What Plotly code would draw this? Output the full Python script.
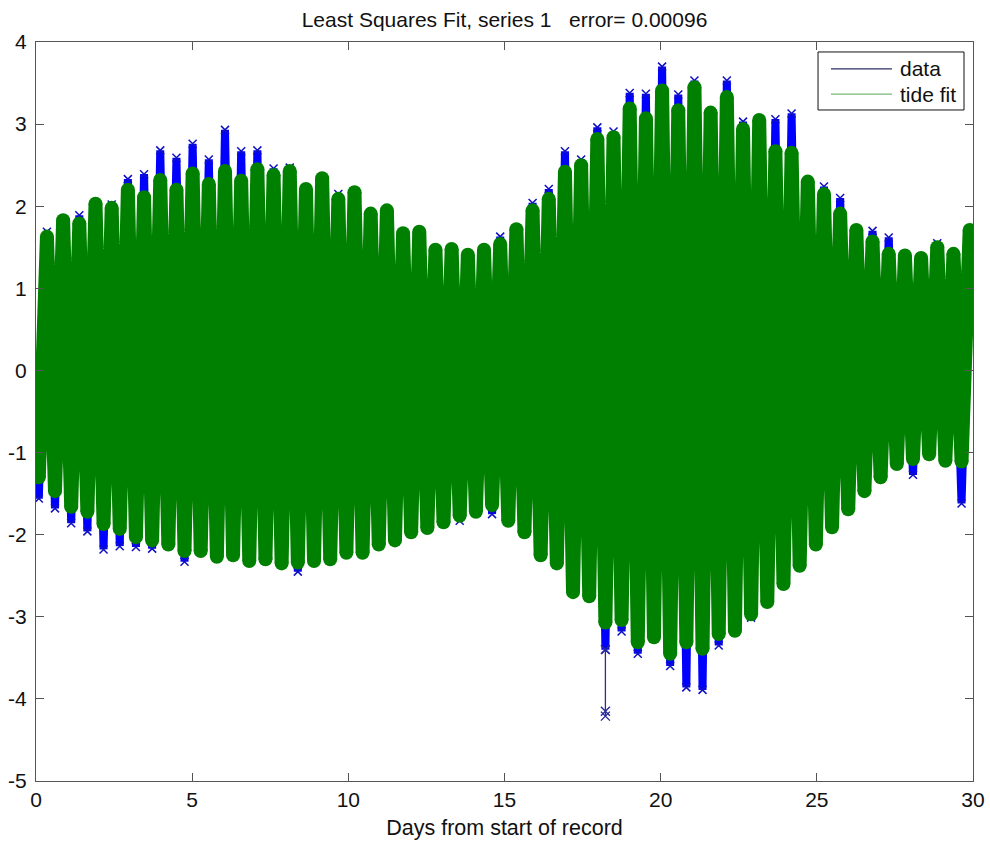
import numpy as np
import plotly.graph_objects as go

# Semidiurnal cycle grid: one low water followed by one high water per cycle
n_cycles = 58
period_days = 0.5183
t_low = 0.09 + period_days * np.arange(n_cycles)
t_high = t_low + 0.26

# Tide fit extremes (m)
fit_high = [1.63, 1.83, 1.79, 2.03, 1.98, 2.20, 2.11, 2.32, 2.20, 2.40,
            2.27, 2.43, 2.31, 2.45, 2.38, 2.43, 2.21, 2.34, 2.09, 2.17,
            1.91, 1.95, 1.67, 1.69, 1.47, 1.48, 1.41, 1.47, 1.54, 1.72,
            1.95, 2.09, 2.42, 2.50, 2.82, 2.84, 3.19, 3.07, 3.41, 3.17,
            3.45, 3.14, 3.33, 2.94, 3.05, 2.67, 2.65, 2.30, 2.15, 1.91,
            1.71, 1.57, 1.42, 1.40, 1.37, 1.50, 1.42, 1.71]
fit_low = [-1.30, -1.47, -1.66, -1.72, -1.87, -1.93, -2.03, -2.07, -2.12, -2.20,
           -2.20, -2.27, -2.25, -2.32, -2.30, -2.35, -2.34, -2.32, -2.30, -2.22,
           -2.22, -2.12, -2.07, -1.97, -1.92, -1.85, -1.77, -1.72, -1.64, -1.83,
           -1.97, -2.25, -2.35, -2.70, -2.75, -3.07, -3.04, -3.31, -3.25, -3.45,
           -3.31, -3.39, -3.21, -3.17, -2.97, -2.82, -2.60, -2.38, -2.12, -1.91,
           -1.69, -1.47, -1.30, -1.14, -1.08, -1.02, -1.10, -1.11]

# Observed extremes (m)
data_high = [1.69, 1.83, 1.89, 2.03, 2.02, 2.33, 2.39, 2.68, 2.59, 2.76,
             2.57, 2.93, 2.67, 2.68, 2.46, 2.47, 2.21, 2.34, 2.15, 2.17,
             1.91, 1.95, 1.67, 1.69, 1.47, 1.48, 1.41, 1.47, 1.63, 1.72,
             2.04, 2.21, 2.67, 2.57, 2.96, 2.91, 3.38, 3.37, 3.70, 3.36,
             3.53, 3.14, 3.53, 3.03, 3.05, 3.06, 3.13, 2.30, 2.24, 2.10,
             1.71, 1.70, 1.62, 1.40, 1.37, 1.55, 1.42, 1.71]
data_low = [-1.56, -1.68, -1.86, -1.96, -2.18, -2.14, -2.15, -2.17, -2.12, -2.33,
            -2.20, -2.27, -2.25, -2.32, -2.30, -2.35, -2.45, -2.32, -2.30, -2.22,
            -2.22, -2.12, -2.07, -1.97, -1.92, -1.85, -1.83, -1.72, -1.75, -1.83,
            -1.97, -2.25, -2.35, -2.70, -2.75, -3.40, -3.18, -3.45, -3.25, -3.60,
            -3.86, -3.89, -3.35, -3.17, -3.01, -2.82, -2.60, -2.38, -2.12, -1.91,
            -1.69, -1.47, -1.30, -1.14, -1.27, -1.02, -1.10, -1.62]

# Record end points
t_start, t_end = 0.0, 30.0
fit_start, fit_end = -0.55, 0.90
data_start, data_end = -0.55, 0.72

# Spurious low readings in the observations near day 18
spike_cycle = 35
spike_values = [-3.40, -4.15, -4.21]

x_ticks = [0, 5, 10, 15, 20, 25, 30]
y_ticks = [-5, -4, -3, -2, -1, 0, 1, 2, 3, 4]


def interleave(lows, highs, first, last):
    seq = [first]
    for lo, hi in zip(lows, highs):
        seq.extend([lo, hi])
    seq.append(last)
    return seq


t_all = interleave(t_low, t_high, t_start, t_end)
fit_all = interleave(fit_low, fit_high, fit_start, fit_end)
data_all = interleave(data_low, data_high, data_start, data_end)

BLUE = "#0000ff"
GREEN = "#008000"
FONT = "Liberation Sans, Arial, sans-serif"

fig = go.Figure()

fig.add_trace(go.Scatter(
    x=t_all, y=data_all, mode="lines+markers", showlegend=False,
    line=dict(color=BLUE, width=8),
    marker=dict(symbol="x-thin", size=8, line=dict(color="#1010c0", width=1.5)),
))
fig.add_trace(go.Scatter(
    x=[t_low[spike_cycle]] * len(spike_values), y=spike_values,
    mode="lines+markers", showlegend=False,
    line=dict(color="#2a2a9a", width=1.3),
    marker=dict(symbol="x-thin", size=9, line=dict(color="#2a2a9a", width=1.4)),
))
fig.add_trace(go.Scatter(
    x=t_all, y=fit_all, mode="lines+markers", showlegend=False,
    line=dict(color=GREEN, width=14),
    marker=dict(symbol="circle", size=14, color=GREEN),
))

axis_common = dict(
    showline=True, linecolor="#555555", linewidth=1.2, mirror="ticks",
    ticks="inside", ticklen=8, tickcolor="#555555", tickwidth=1.2,
    showgrid=False, zeroline=False, automargin=False,
    tickfont=dict(size=21, color="#111111", family=FONT),
)

# Legend box drawn in paper coordinates (top-right corner of the axes)
legend_box = dict(x0=0.8346, x1=0.9904, y0=0.908, y1=0.9865)
legend_rows = [("data", "#2b3160", 0.9635), ("tide fit", "#78b878", 0.9296)]
shapes = [dict(type="rect", xref="paper", yref="paper", **legend_box,
               line=dict(color="#111111", width=1), fillcolor="white", layer="above")]
annotations = []
for label, colour, yy in legend_rows:
    shapes.append(dict(type="line", xref="paper", yref="paper",
                       x0=0.8484, x1=0.9135, y0=yy, y1=yy,
                       line=dict(color=colour, width=1.2), layer="above"))
    annotations.append(dict(text=label, xref="paper", yref="paper",
                            x=0.9215, y=yy, xanchor="left", yanchor="middle",
                            align="left", borderpad=0,
                            showarrow=False,
                            font=dict(size=21, family=FONT, color="#111111")))

fig.update_layout(
    width=990, height=843,
    margin=dict(l=36, r=17, t=42, b=62),
    paper_bgcolor="white", plot_bgcolor="white",
    font=dict(family=FONT, size=21, color="#111111"),
    title=dict(text="Least Squares Fit, series 1   error= 0.00096",
               x=0.5, xref="paper", xanchor="center",
               y=1 - 20 / 843, yref="container", yanchor="middle",
               font=dict(size=21)),
    xaxis=dict(range=[0, 30], tickvals=x_ticks,
               ticktext=[str(v) for v in x_ticks],
               title=dict(text="Days from start of record", standoff=9,
                          font=dict(size=21.5)),
               **axis_common),
    yaxis=dict(range=[-5, 4], tickvals=y_ticks,
               ticktext=[str(v) for v in y_ticks],
               ticklabelstandoff=4, **axis_common),
    shapes=shapes,
    annotations=annotations,
    showlegend=False,
)

fig.write_html("out.html")
